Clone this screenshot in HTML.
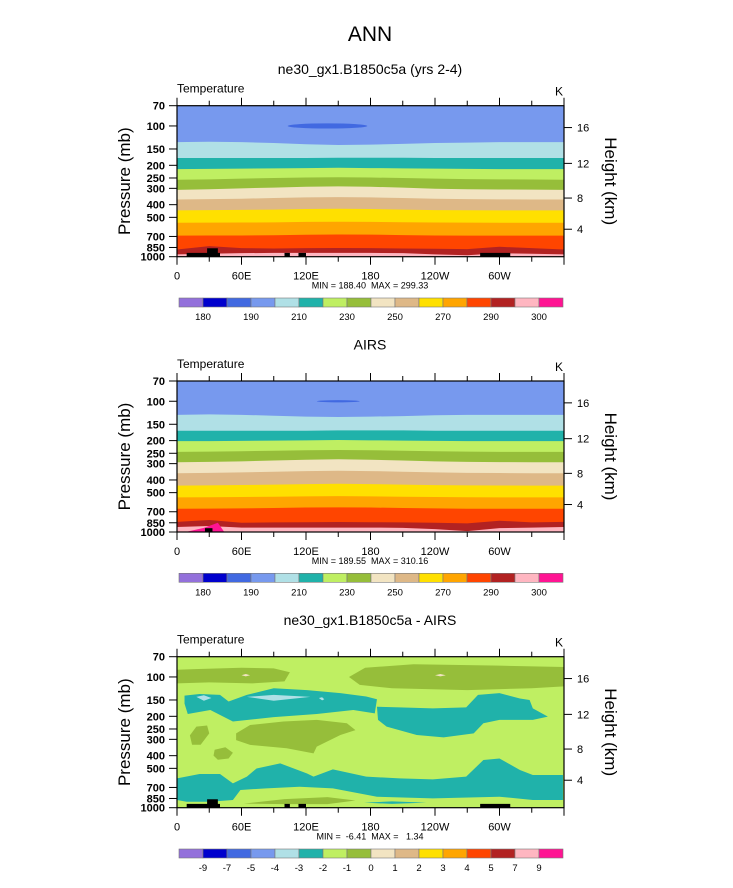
<!DOCTYPE html>
<html><head><meta charset="utf-8"><style>
html,body{margin:0;padding:0;background:#fff}
svg{display:block;font-family:"Liberation Sans",sans-serif}
text{white-space:pre}
</style></head><body>
<svg id="fig" width="733" height="888" viewBox="0 0 733 888" xmlns="http://www.w3.org/2000/svg">
<text x="370" y="41" font-size="21" text-anchor="middle">ANN</text>
</svg>
<script>
// ---- data ----
const lonGrid = [0,30,60,90,120,150,180,210,240,270,300,330,360];
const pressureTicks = [70,100,150,200,250,300,400,500,700,850,1000];
const lonTickValues = [0,60,120,180,240,300];
const lonTickLabels = ["0","60E","120E","180","120W","60W"];
const kmTicks = [4,8,12,16];
const tempColors = ["#9370DB","#0000CD","#4169E1","#7799EE","#B0E0E6","#20B2AA","#BFEF62","#96BE3A","#F2E4C2","#DEB887","#FFE000","#FFA500","#FF4500","#B22222","#FFB6C1","#FF1493"];
const tempLabels = ["180","190","210","230","250","270","290","300"];
const diffLabels = ["-9","-7","-5","-4","-3","-2","-1","0","1","2","3","4","5","7","9"];
// panel 1 band boundaries (pressure, mb) along lonGrid, top to bottom
const p1Bounds = [
 [133,132,133,135,138,140,139,137,135,134,133,133,133],
 [176,176,176,176,176,175,175,175,176,176,176,176,176],
 [214,213,212,211,210,209,210,211,212,213,214,214,214],
 [258,256,253,250,248,247,248,250,253,255,256,257,258],
 [308,305,300,296,292,290,292,296,302,305,306,307,308],
 [365,363,360,356,352,350,352,356,360,363,364,365,365],
 [442,440,438,436,432,430,432,436,440,441,442,442,442],
 [550,549,548,546,542,540,542,545,548,549,550,550,550],
 [690,689,688,686,680,676,678,684,688,690,690,690,690],
 [880,830,860,865,860,858,860,865,870,875,840,860,880],
 [960,950,940,935,935,935,935,940,960,975,940,950,960]
];
const p2Bounds = [
 [127,126,127,129,131,132,131,130,128,127,127,127,127],
 [168,168,168,168,168,167,167,167,168,168,168,168,168],
 [202,202,201,200,199,198,199,200,201,202,202,202,202],
 [244,243,241,239,237,236,237,239,241,243,244,244,244],
 [293,291,288,284,280,278,280,284,288,291,292,293,293],
 [355,353,350,346,342,340,342,346,350,353,354,355,355],
 [442,440,437,434,430,428,430,434,438,440,441,442,442],
 [543,542,540,538,534,532,534,537,540,542,543,543,543],
 [664,662,660,656,650,648,650,655,660,664,664,664,664],
 [837,810,850,845,842,838,842,845,850,860,820,845,837],
 [915,900,925,925,925,925,925,930,950,985,935,925,915]
];
const p1Ellipse = [140,100,37];   // lon, p, half-width (deg)
const p2Ellipse = [150,100,20];
const p1Topo = [[9,40,935],[28,38,862],[100,105,935],[113,120,935],[282,310,935]];
const p2Topo = [[26,33,935]];
const p3Topo = [[9,40,935],[28,38,862],[100,105,935],[113,120,935],[282,310,935]];
// panel 3 difference blobs: color index + (lon,p) vertices
const diffBlobColors = [7,7,5,5,5,7,7,7,4,4,4,8,8,7,5];
const diffBlobLons = [
 [0,20,60,90,105,100,70,30,0],
 [160,175,220,300,360,360,330,270,200,170],
 [7,21,40,48,65,90,121,152,176,186,184,164,130,90,52,31,10,7],
 [186,207,238,269,280,300,319,328,331,345,331,300,285,276,248,223,195,187],
 [0,21,40,52,65,74,96,121,127,145,176,207,238,269,285,300,319,331,359,359,331,300,238,186,145,114,83,59,52,31,9,0],
 [55,68,99,130,158,166,152,130,127,102,68,55],
 [12,18,28,30,22,14],
 [35,45,52,48,38,34],
 [18,25,32,25],
 [65,90,124,90],
 [132,135,137,135],
 [60,64,68,64],
 [240,245,250,245],
 [62,100,140,166,140,100],
 [174,200,232,200]
];
const diffBlobPs = [
 [88,87,85,86,92,108,112,110,112],
 [100,85,80,82,84,118,122,126,122,115],
 [139,135,137,154,137,122,126,133,141,148,190,179,192,203,219,179,192,160],
 [169,171,174,171,137,133,146,150,174,201,213,213,226,270,290,278,240,213],
 [596,553,553,651,579,501,458,547,579,509,579,596,607,579,432,420,515,562,562,874,874,824,849,824,711,691,711,732,874,900,900,874],
 [270,233,219,213,226,255,278,341,384,351,331,304],
 [280,240,235,270,330,330],
 [360,345,380,420,430,400],
 [142,138,145,152],
 [142,137,142,152],
 [145,143,148,151],
 [97,95,97,99],
 [97,95,97,99],
 [930,860,830,880,940,940],
 [915,895,915,935]
];
const panelTitles = ["ne30_gx1.B1850c5a (yrs 2-4)","AIRS","ne30_gx1.B1850c5a - AIRS"];
const minMax = ["MIN = 188.40  MAX = 299.33","MIN = 189.55  MAX = 310.16","MIN =  -6.41  MAX =   1.34"];

// ---- layout ----
const svg = document.getElementById('fig');
const NS = 'http://www.w3.org/2000/svg';
const X0 = 177, X1 = 564, PH = 151;
const tops = [105.7, 381, 656.7];
function xS(lon){ return X0 + lon/360*(X1-X0); }
function yS(top,p){ return top + Math.log10(p/70)/Math.log10(1000/70)*PH; }
function kmToP(z){ const m=z*1000; return m<=11000 ? 1013.25*Math.pow(1-2.2558e-5*m,5.2559) : 226.32*Math.exp(-(m-11000)/6341.6); }
function mk(tag, attrs, parent){ const e=document.createElementNS(NS,tag); for(const k in attrs) e.setAttribute(k,attrs[k]); (parent||svg).appendChild(e); return e; }

function drawPanel(i){
  const top = tops[i], bot = top+PH, dy = top-105.7;
  const g = mk('g',{});
  
  
  const t = mk('text',{x:370,y:74+dy,'font-size':14,'text-anchor':'middle'},g);
  t.textContent = panelTitles[i];
  
  
  const clipId='clip'+i;
  const cp = mk('clipPath',{id:clipId},g);
  mk('rect',{x:X0,y:top,width:X1-X0,height:PH},cp);
  const plot = mk('g',{'clip-path':'url(#'+clipId+')'},g);
  
  
  if(i<2){
    const B = i===0 ? p1Bounds : p2Bounds;
    const bg = mk('rect',{x:X0,y:top,width:X1-X0,height:PH,fill:tempColors[3]},plot);
    
    
    B.forEach((row,k)=>{
      let d='M'+xS(lonGrid[0])+','+yS(top,row[0]);
      for(let j=1;j<lonGrid.length;j++) d+=' L'+xS(lonGrid[j])+','+yS(top,row[j]);
      d+=' L'+X1+','+(bot+2)+' L'+X0+','+(bot+2)+' Z';
      const pth = mk('path',{d:d,fill:tempColors[4+k]},plot);
      
      
    });
    const E = i===0 ? p1Ellipse : p2Ellipse;
    const el = mk('ellipse',{cx:xS(E[0]),cy:yS(top,E[1]),rx:xS(E[2])-X0,ry:i===0?2.6:1.1,fill:tempColors[2]},plot);
    
    
    if(i===1){
      const pk = mk('path',{d:'M'+xS(8)+','+bot+' L'+xS(25)+','+yS(top,930)+' L'+xS(38)+','+yS(top,850)+' L'+xS(44)+','+bot+' Z',fill:tempColors[15]},plot);
      
      
    }
  } else {
    const bg = mk('rect',{x:X0,y:top,width:X1-X0,height:PH,fill:tempColors[6]},plot);
    
    
    diffBlobLons.forEach((ls,k)=>{
      const ps = diffBlobPs[k];
      let d='';
      ls.forEach((l,j)=>{ d+=(j?' L':'M')+xS(l)+','+yS(top,ps[j]); });
      const pth = mk('path',{d:d+' Z',fill:tempColors[diffBlobColors[k]]},plot);
      
      
    });
  }
  const topo = [p1Topo,p2Topo,p3Topo][i];
  topo.forEach(b=>{
    const r = mk('rect',{x:xS(b[0]),y:yS(top,b[2]),width:xS(b[1])-xS(b[0]),height:bot-yS(top,b[2]),fill:'#000'},plot);
    
    
  });
  const fr = mk('rect',{x:X0,y:top,width:X1-X0,height:PH,fill:'none',stroke:'#000','stroke-width':1.2},g);
  
  
  // lon ticks
  for(let l=0;l<=360;l+=30){
    const major = l%60===0, len = major?8:5;
    mk('line',{x1:xS(l),x2:xS(l),y1:top,y2:top-len,stroke:'#000','stroke-width':1},g);
    mk('line',{x1:xS(l),x2:xS(l),y1:bot,y2:bot+len,stroke:'#000','stroke-width':1},g);
  }
  lonTickValues.forEach((l,k)=>{
    const tx = mk('text',{x:xS(l),y:bot+23,'font-size':11,'text-anchor':'middle'},g);
    tx.textContent = lonTickLabels[k];
    
    
  });
  pressureTicks.forEach(p=>{
    const y = yS(top,p);
    mk('line',{x1:X0-8,x2:X0,y1:y,y2:y,stroke:'#000','stroke-width':1},g);
    const tx = mk('text',{x:X0-12,y:y+4,'font-size':11,'font-weight':'bold','text-anchor':'end'},g);
    tx.textContent = p;
    
    
  });
  kmTicks.forEach(z=>{
    const y = yS(top,kmToP(z));
    mk('line',{x1:X1,x2:X1+8,y1:y,y2:y,stroke:'#000','stroke-width':1},g);
    const tx = mk('text',{x:X1+13,y:y+4,'font-size':11},g);
    tx.textContent = z;
    
    
  });
  const tt = mk('text',{x:X0,y:top-13,'font-size':12},g);
  tt.textContent='Temperature';
  
  
  const ku = mk('text',{x:X1-1,y:top-10,'font-size':12,'text-anchor':'end'},g);
  ku.textContent='K';
  
  
  const yl = mk('text',{x:0,y:0,'font-size':17,'text-anchor':'middle',transform:'translate(130,'+(top+PH/2)+') rotate(-90)'},g);
  yl.textContent='Pressure (mb)';
  
  
  const hl = mk('text',{x:0,y:0,'font-size':17,'text-anchor':'middle',transform:'translate(605,'+(top+PH/2)+') rotate(90)'},g);
  hl.textContent='Height (km)';
  
  
  const mm = mk('text',{x:370,y:bot+32,'font-size':9,'text-anchor':'middle'},g);
  mm.textContent = minMax[i];
  
  
  // colorbar
  const cb = mk('g',{},g);
  
  
  const cy = top+192.3, cw = (563-179)/16;
  tempColors.forEach((c,k)=>{
    const r = mk('rect',{x:179+k*cw,y:cy,width:cw,height:9,fill:c,stroke:'#777','stroke-width':0.6},cb);
    
    
  });
  if(i<2){
    tempLabels.forEach((s,k)=>{
      const tx = mk('text',{x:179+(2*k+1)*cw,y:cy+22,'font-size':9.5,'text-anchor':'middle'},cb);
      tx.textContent=s;
      
      
    });
  } else {
    diffLabels.forEach((s,k)=>{
      const tx = mk('text',{x:179+(k+1)*cw,y:cy+22,'font-size':9.5,'text-anchor':'middle'},cb);
      tx.textContent=s;
      
      
    });
  }
}
[0,1,2].forEach(drawPanel);
</script>
</body></html>
